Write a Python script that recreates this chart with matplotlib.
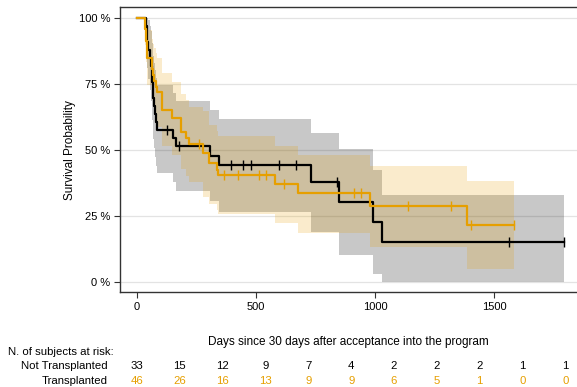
import numpy as np
import matplotlib
matplotlib.use("Agg")
import matplotlib.pyplot as plt
from matplotlib.transforms import blended_transform_factory

plt.rcParams['font.family'] = ['Liberation Sans', 'DejaVu Sans']

# Not Transplanted (black)
times_nt = [0, 38, 41, 44, 47, 53, 58, 61, 64, 66, 69, 72, 76, 80, 84,
            151, 164, 306, 344, 730, 848, 990, 1028]
surv_nt = [1.0, .970, .939, .909, .879, .848, .818, .788, .758, .727, .697,
           .667, .636, .606, .576, .545, .515, .477, .443, .379, .303, .227, .152]
lo_nt = [1.0, .912, .857, .811, .768, .726, .686, .649, .612, .575, .540,
         .506, .472, .439, .410, .379, .345, .305, .265, .189, .102, .030, 0.0]
hi_nt = [1.0, 1.0, 1.0, 1.0, .990, .970, .950, .927, .904, .879, .854,
         .828, .800, .773, .745, .716, .686, .652, .617, .564, .504, .424, .330]
end_nt = 1796
cens_nt = [128, 176, 394, 445, 478, 596, 667, 839, 1565, 1796]

# Transplanted (orange)
times_tx = [0, 34, 35, 36, 38, 40, 42, 44, 63, 65, 67, 72, 78, 84, 105,
            147, 185, 206, 218, 277, 302, 336, 340, 579, 676, 978, 1385]
surv_tx = [1.0, .978, .957, .935, .913, .891, .870, .848, .826, .804, .783,
           .761, .739, .717, .652, .621, .568, .545, .523, .488, .451, .424,
           .405, .371, .337, .288, .216]
lo_tx = [1.0, .936, .898, .864, .832, .801, .773, .744, .716, .689, .664,
         .638, .612, .587, .514, .481, .425, .401, .379, .320, .295, .270,
         .257, .223, .186, .133, .050]
hi_tx = [1.0, 1.0, 1.0, 1.0, .994, .981, .967, .952, .936, .919, .902,
         .884, .866, .847, .790, .757, .711, .689, .660, .645, .595, .572,
         .550, .515, .480, .439, .383]
end_tx = 1582
cens_tx = [260, 365, 424, 512, 541, 617, 911, 940, 1137, 1318, 1402, 1582]

# risk table
risk_times = [0, 180, 360, 540, 720, 900, 1080, 1260, 1440, 1620, 1800]
risk_nt = [33, 15, 12, 9, 7, 4, 2, 2, 2, 1, 1]
risk_tx = [46, 26, 16, 13, 9, 9, 6, 5, 1, 0, 0]

xticks = [0, 500, 1000, 1500]
yticks = [0, .25, .5, .75, 1.0]
ylabels = ["0 %", "25 %", "50 %", "75 %", "100 %"]

orange = '#E69F00'
fs = 8.5
fs_tab = 8.2

W, H = 577, 387
fig = plt.figure(figsize=(W / 100, H / 100), dpi=100)
ax = fig.add_axes([120 / W, 1 - 292 / H, 1 - 120 / W, (292 - 7) / H])


def ext(t, v, end):
    return np.append(t, end), np.append(v, v[-1])


def at(t, v, c):
    i = np.searchsorted(t, c, side='right') - 1
    return np.array(v)[i]


for t, s, lo, hi, end, col, a in [
        (times_nt, surv_nt, lo_nt, hi_nt, end_nt, 'black', 0.215),
        (times_tx, surv_tx, lo_tx, hi_tx, end_tx, orange, 0.2)]:
    te, loe = ext(t, lo, end)
    _, hie = ext(t, hi, end)
    ax.fill_between(te, loe, hie, step='post', color=col, alpha=a, lw=0)

for t, s, end, cens, col in [(times_nt, surv_nt, end_nt, cens_nt, 'black'),
                             (times_tx, surv_tx, end_tx, cens_tx, orange)]:
    te, se = ext(t, s, end)
    ax.step(te, se, where='post', color=col, lw=1.6, zorder=3)
    ax.plot(cens, at(t, s, cens), ls='none', marker='|', ms=7, mew=1,
            color=col, zorder=4)

ax.set_xlim(-71.4, 1848.7)
ax.set_ylim(-0.039, 1.0405)
ax.set_xticks(xticks)
ax.set_yticks(yticks)
ax.set_yticklabels(ylabels)
ax.grid(axis='y', color='#e3e3e3', lw=0.9)
ax.grid(axis='x', visible=False)
ax.set_axisbelow(True)
ax.tick_params(labelsize=8, length=4, width=0.8, color='#333333', pad=3)
for sp in ax.spines.values():
    sp.set_color('#333333')
    sp.set_linewidth(1.0)
ax.spines['right'].set_visible(False)

fig.text(70 / W, 1 - 150 / H, "Survival Probability", rotation=90,
         ha='center', va='center', fontsize=fs)
fig.text(348 / W, 1 - 342 / H, "Days since 30 days after acceptance into the program",
         ha='center', va='center', fontsize=fs)

fig.text(8 / W, 1 - 352 / H, "N. of subjects at risk:", ha='left', va='center', fontsize=fs_tab)
fig.text(108 / W, 1 - 366 / H, "Not Transplanted", ha='right', va='center', fontsize=fs_tab)
fig.text(108 / W, 1 - 381 / H, "Transplanted", ha='right', va='center', fontsize=fs_tab)

tr = blended_transform_factory(ax.transData, fig.transFigure)
for x, n1, n2 in zip(risk_times, risk_nt, risk_tx):
    ax.text(x, 1 - 366 / H, str(n1), transform=tr, ha='center', va='center',
            fontsize=fs_tab, color='black', clip_on=False)
    ax.text(x, 1 - 381 / H, str(n2), transform=tr, ha='center', va='center',
            fontsize=fs_tab, color=orange, clip_on=False)

fig.savefig("out.png", dpi=100)
